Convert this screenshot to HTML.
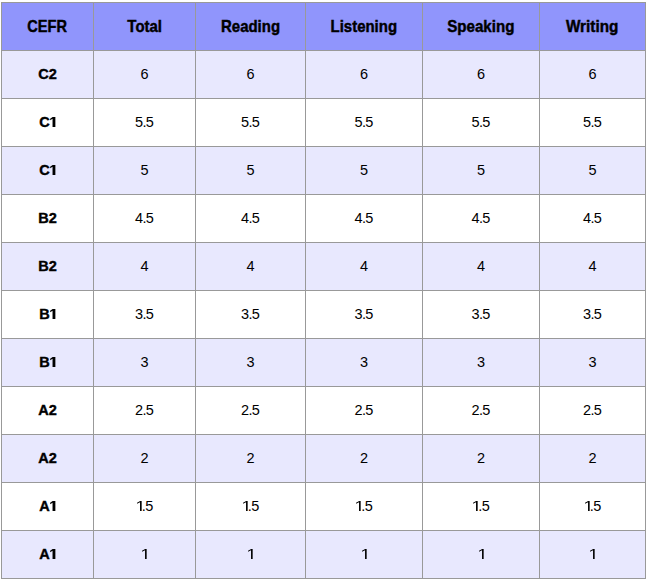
<!DOCTYPE html>
<html><head><meta charset="utf-8"><style>
html,body{margin:0;padding:0;background:#fff;width:646px;height:579px;overflow:hidden}
.t{position:absolute;left:1px;top:2px;display:grid;grid-template-columns:91px 101px 109px 116px 116px 105px;grid-template-rows:repeat(12,47px);gap:1px;padding:1px;background:#999;font-family:"Liberation Sans",sans-serif;color:#000}
.t div{display:flex;align-items:center;justify-content:center;font-size:14.5px;line-height:1;white-space:nowrap}
.t div.h{background:#9095fc;font-weight:bold;font-size:17px}
.h span{display:inline-block;transform:scaleX(0.88);-webkit-text-stroke:0.45px #000}
.p{margin:0 -0.7px}
.o{background:#e8e8fe}
.e{background:#fff}
.b{font-weight:bold;-webkit-text-stroke:0.4px #000}
.one{display:inline-block;height:0.695em;vertical-align:0.6px;fill:#000}
.one.r{width:0.4639em}
.one.b1{width:0.4004em}
</style></head><body><div class="t">
<div class="h"><span style="transform:scaleX(0.855)">CEFR</span></div><div class="h"><span>Total</span></div><div class="h"><span>Reading</span></div><div class="h"><span>Listening</span></div><div class="h"><span style="transform:scaleX(0.89)">Speaking</span></div><div class="h"><span style="transform:scaleX(0.9)">Writing</span></div><div class="o b">C2</div><div class="o">6</div><div class="o">6</div><div class="o">6</div><div class="o">6</div><div class="o">6</div><div class="e b">C<svg class="one b1" preserveAspectRatio="none" viewBox="0 0 820 1409"><path d="M360,1409L360,239L20,450L20,229L375,0L760,0L760,1409Z"/></svg></div><div class="e">5<span class="p">.</span>5</div><div class="e">5<span class="p">.</span>5</div><div class="e">5<span class="p">.</span>5</div><div class="e">5<span class="p">.</span>5</div><div class="e">5<span class="p">.</span>5</div><div class="o b">C<svg class="one b1" preserveAspectRatio="none" viewBox="0 0 820 1409"><path d="M360,1409L360,239L20,450L20,229L375,0L760,0L760,1409Z"/></svg></div><div class="o">5</div><div class="o">5</div><div class="o">5</div><div class="o">5</div><div class="o">5</div><div class="e b">B2</div><div class="e">4<span class="p">.</span>5</div><div class="e">4<span class="p">.</span>5</div><div class="e">4<span class="p">.</span>5</div><div class="e">4<span class="p">.</span>5</div><div class="e">4<span class="p">.</span>5</div><div class="o b">B2</div><div class="o">4</div><div class="o">4</div><div class="o">4</div><div class="o">4</div><div class="o">4</div><div class="e b">B<svg class="one b1" preserveAspectRatio="none" viewBox="0 0 820 1409"><path d="M360,1409L360,239L20,450L20,229L375,0L760,0L760,1409Z"/></svg></div><div class="e">3<span class="p">.</span>5</div><div class="e">3<span class="p">.</span>5</div><div class="e">3<span class="p">.</span>5</div><div class="e">3<span class="p">.</span>5</div><div class="e">3<span class="p">.</span>5</div><div class="o b">B<svg class="one b1" preserveAspectRatio="none" viewBox="0 0 820 1409"><path d="M360,1409L360,239L20,450L20,229L375,0L760,0L760,1409Z"/></svg></div><div class="o">3</div><div class="o">3</div><div class="o">3</div><div class="o">3</div><div class="o">3</div><div class="e b">A2</div><div class="e">2<span class="p">.</span>5</div><div class="e">2<span class="p">.</span>5</div><div class="e">2<span class="p">.</span>5</div><div class="e">2<span class="p">.</span>5</div><div class="e">2<span class="p">.</span>5</div><div class="o b">A2</div><div class="o">2</div><div class="o">2</div><div class="o">2</div><div class="o">2</div><div class="o">2</div><div class="e b">A<svg class="one b1" preserveAspectRatio="none" viewBox="0 0 820 1409"><path d="M360,1409L360,239L20,450L20,229L375,0L760,0L760,1409Z"/></svg></div><div class="e"><svg class="one r" preserveAspectRatio="none" viewBox="0 0 950 1409"><path d="M570,1409L570,172L150,399L150,229L585,0L800,0L800,1409Z"/></svg><span class="p">.</span>5</div><div class="e"><svg class="one r" preserveAspectRatio="none" viewBox="0 0 950 1409"><path d="M570,1409L570,172L150,399L150,229L585,0L800,0L800,1409Z"/></svg><span class="p">.</span>5</div><div class="e"><svg class="one r" preserveAspectRatio="none" viewBox="0 0 950 1409"><path d="M570,1409L570,172L150,399L150,229L585,0L800,0L800,1409Z"/></svg><span class="p">.</span>5</div><div class="e"><svg class="one r" preserveAspectRatio="none" viewBox="0 0 950 1409"><path d="M570,1409L570,172L150,399L150,229L585,0L800,0L800,1409Z"/></svg><span class="p">.</span>5</div><div class="e"><svg class="one r" preserveAspectRatio="none" viewBox="0 0 950 1409"><path d="M570,1409L570,172L150,399L150,229L585,0L800,0L800,1409Z"/></svg><span class="p">.</span>5</div><div class="o b">A<svg class="one b1" preserveAspectRatio="none" viewBox="0 0 820 1409"><path d="M360,1409L360,239L20,450L20,229L375,0L760,0L760,1409Z"/></svg></div><div class="o"><svg class="one r" preserveAspectRatio="none" viewBox="0 0 950 1409"><path d="M570,1409L570,172L150,399L150,229L585,0L800,0L800,1409Z"/></svg></div><div class="o"><svg class="one r" preserveAspectRatio="none" viewBox="0 0 950 1409"><path d="M570,1409L570,172L150,399L150,229L585,0L800,0L800,1409Z"/></svg></div><div class="o"><svg class="one r" preserveAspectRatio="none" viewBox="0 0 950 1409"><path d="M570,1409L570,172L150,399L150,229L585,0L800,0L800,1409Z"/></svg></div><div class="o"><svg class="one r" preserveAspectRatio="none" viewBox="0 0 950 1409"><path d="M570,1409L570,172L150,399L150,229L585,0L800,0L800,1409Z"/></svg></div><div class="o"><svg class="one r" preserveAspectRatio="none" viewBox="0 0 950 1409"><path d="M570,1409L570,172L150,399L150,229L585,0L800,0L800,1409Z"/></svg></div>
</div></body></html>
